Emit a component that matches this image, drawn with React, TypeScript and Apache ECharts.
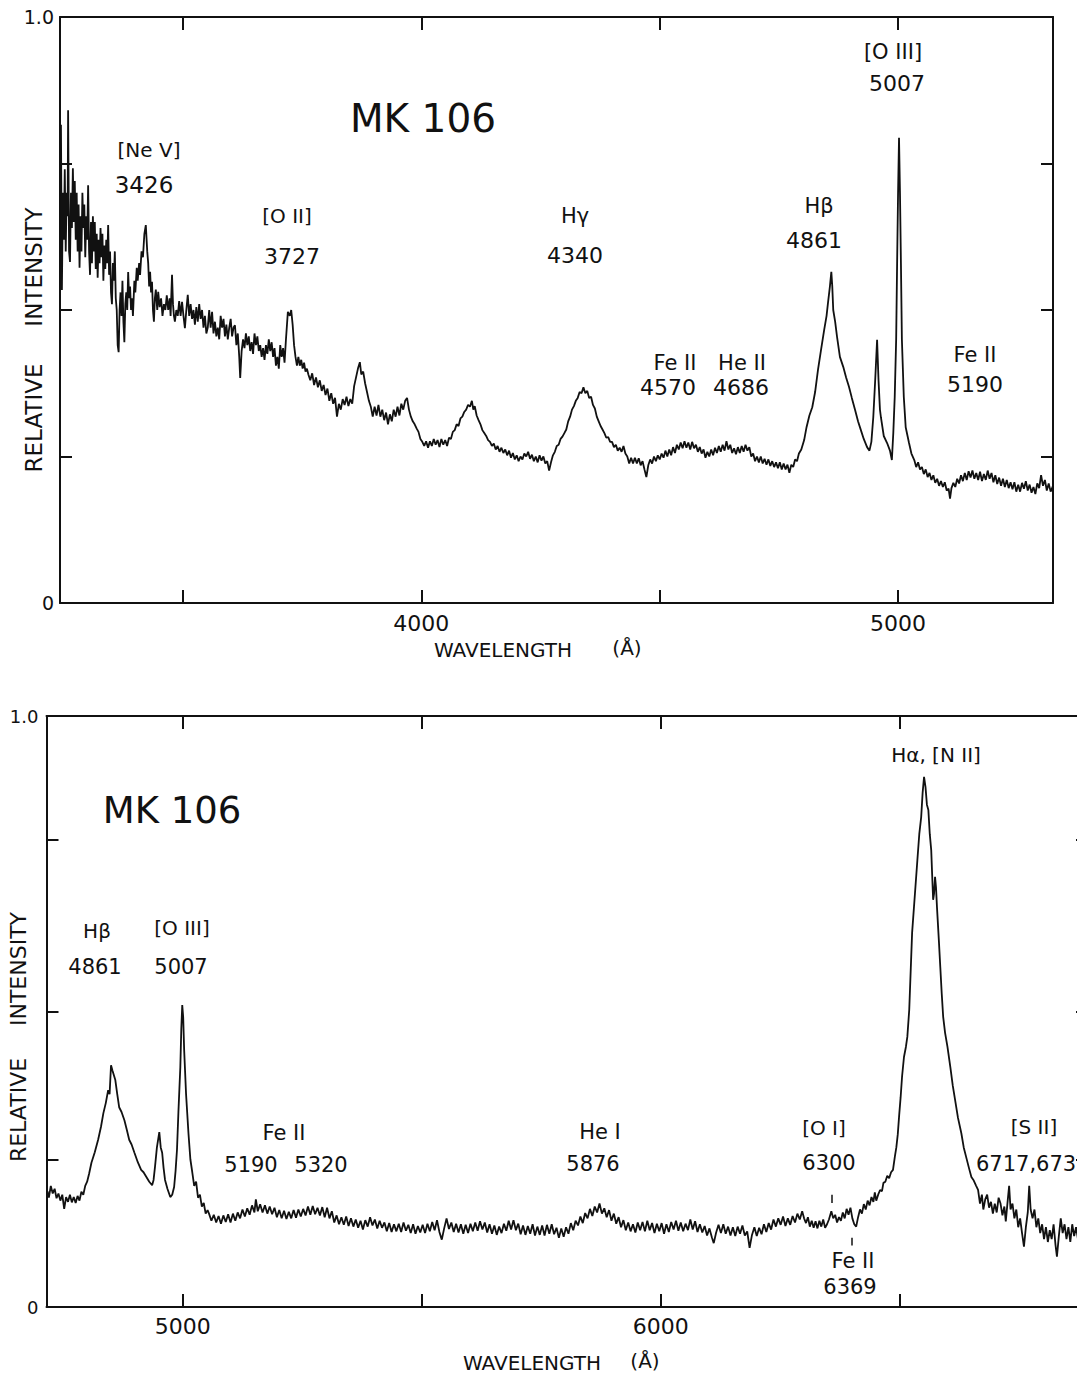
import React, { useEffect, useRef } from "react";
import * as echarts from "echarts";

const FONT = "'DejaVu Sans', 'Liberation Sans', Arial, sans-serif";
const INK = "#111";

// ---------- Upper panel spectrum (wavelength Å, relative intensity) ----------
const topSpectrumBlue: [number, number][] = [
  [3244, 0.816], [3246, 0.534], [3248, 0.70], [3250, 0.62], [3252, 0.74], [3254, 0.60], [3256, 0.70], [3258, 0.66],
  [3259, 0.841], [3261, 0.60], [3263, 0.582], [3265, 0.70], [3267, 0.64], [3269, 0.742], [3271, 0.65], [3273, 0.72],
  [3275, 0.62], [3277, 0.70], [3279, 0.60], [3281, 0.68], [3283, 0.572], [3285, 0.66], [3287, 0.60], [3289, 0.70],
  [3291, 0.64], [3293, 0.68], [3295, 0.59], [3297, 0.66], [3299, 0.62], [3301, 0.713], [3303, 0.60], [3305, 0.56],
  [3307, 0.65], [3309, 0.58], [3311, 0.66], [3313, 0.60], [3315, 0.65], [3317, 0.57], [3319, 0.63], [3321, 0.555],
  [3323, 0.62], [3325, 0.58], [3327, 0.64], [3329, 0.59], [3331, 0.63], [3333, 0.55], [3335, 0.61], [3337, 0.57],
  [3339, 0.62], [3341, 0.58], [3343, 0.645], [3345, 0.56], [3347, 0.60], [3349, 0.53], [3351, 0.51], [3353, 0.58],
  [3355, 0.55], [3357, 0.60], [3359, 0.52], [3361, 0.50], [3363, 0.44], [3365, 0.428], [3367, 0.50], [3369, 0.53],
  [3371, 0.49], [3373, 0.55], [3375, 0.48], [3377, 0.445], [3379, 0.51], [3381, 0.53], [3383, 0.50], [3385, 0.565],
  [3387, 0.52], [3389, 0.54], [3391, 0.50], [3393, 0.52], [3395, 0.49], [3398, 0.55], [3400, 0.53], [3403, 0.572],
  [3405, 0.55], [3408, 0.58], [3410, 0.56], [3413, 0.60], [3416, 0.59], [3419, 0.63], [3422, 0.645], [3425, 0.60],
  [3427, 0.58], [3429, 0.54], [3431, 0.565], [3433, 0.53], [3435, 0.548], [3437, 0.50], [3439, 0.48], [3441, 0.52],
  [3443, 0.535], [3446, 0.50], [3448, 0.531], [3451, 0.505], [3454, 0.52], [3457, 0.49], [3460, 0.51], [3463, 0.50],
  [3466, 0.525], [3469, 0.50], [3472, 0.52], [3474, 0.49], [3477, 0.560], [3479, 0.51], [3481, 0.49], [3483, 0.480],
  [3486, 0.50], [3489, 0.49], [3492, 0.515], [3495, 0.49], [3498, 0.514], [3501, 0.49], [3504, 0.469], [3507, 0.50],
  [3510, 0.526], [3513, 0.49], [3516, 0.51], [3519, 0.485], [3522, 0.50], [3525, 0.475], [3528, 0.505], [3531, 0.48],
  [3534, 0.51], [3537, 0.485], [3540, 0.50], [3543, 0.47], [3546, 0.49], [3549, 0.46], [3552, 0.47], [3555, 0.50],
  [3558, 0.47], [3561, 0.497], [3564, 0.46], [3567, 0.48], [3570, 0.455], [3573, 0.47], [3576, 0.45], [3579, 0.49],
  [3582, 0.47], [3585, 0.485], [3588, 0.455], [3591, 0.475], [3594, 0.45], [3597, 0.47], [3600, 0.485], [3603, 0.455],
  [3606, 0.47], [3609, 0.474], [3612, 0.44], [3615, 0.46], [3618, 0.42], [3620, 0.384], [3623, 0.43], [3626, 0.45],
  [3629, 0.435], [3632, 0.46], [3635, 0.44], [3638, 0.455], [3641, 0.43], [3644, 0.445], [3647, 0.425], [3650, 0.46],
  [3653, 0.44], [3656, 0.455], [3659, 0.43], [3662, 0.44], [3665, 0.42], [3668, 0.435], [3671, 0.415], [3674, 0.44],
  [3677, 0.425], [3680, 0.45], [3683, 0.43], [3686, 0.445], [3689, 0.42], [3692, 0.435], [3695, 0.405], [3698, 0.42],
  [3701, 0.40], [3704, 0.44], [3707, 0.42], [3710, 0.435], [3713, 0.41], [3716, 0.45], [3720, 0.497], [3724, 0.49],
  [3727, 0.500], [3730, 0.475], [3733, 0.44], [3736, 0.42], [3739, 0.405], [3742, 0.42], [3745, 0.405], [3748, 0.415],
  [3751, 0.40], [3754, 0.41], [3757, 0.395], [3760, 0.40],
];

const topSpectrumMid: [number, number][] = [
  [3763, 0.39], [3767, 0.38], [3771, 0.392], [3775, 0.372], [3779, 0.385], [3783, 0.368], [3787, 0.38], [3791, 0.362],
  [3795, 0.372], [3799, 0.355], [3803, 0.366], [3807, 0.345], [3811, 0.358], [3815, 0.34], [3819, 0.35], [3823, 0.318],
  [3827, 0.34], [3831, 0.33], [3835, 0.348], [3839, 0.338], [3843, 0.352], [3847, 0.336], [3851, 0.348], [3855, 0.34],
  [3859, 0.37], [3863, 0.385], [3867, 0.40], [3871, 0.411], [3874, 0.39], [3878, 0.395], [3882, 0.375], [3886, 0.36],
  [3890, 0.345], [3894, 0.335], [3898, 0.318], [3902, 0.335], [3906, 0.32], [3910, 0.338], [3914, 0.318], [3918, 0.33],
  [3922, 0.312], [3926, 0.325], [3930, 0.305], [3934, 0.322], [3938, 0.31], [3942, 0.33], [3946, 0.318], [3950, 0.335],
  [3954, 0.32], [3958, 0.34], [3962, 0.33], [3966, 0.345], [3970, 0.350], [3974, 0.33], [3978, 0.318], [3982, 0.31],
  [3986, 0.305], [3990, 0.298], [3994, 0.292], [3998, 0.28], [4002, 0.275], [4006, 0.268], [4010, 0.276], [4014, 0.265],
  [4018, 0.276], [4022, 0.268], [4026, 0.28], [4030, 0.27], [4034, 0.278], [4038, 0.266], [4042, 0.28], [4046, 0.27],
  [4050, 0.278], [4054, 0.268], [4058, 0.282], [4062, 0.28], [4066, 0.292], [4070, 0.295], [4074, 0.305], [4078, 0.302],
  [4082, 0.315], [4086, 0.318], [4090, 0.326], [4094, 0.33], [4098, 0.338], [4102, 0.335], [4106, 0.345], [4109, 0.33],
  [4112, 0.336], [4116, 0.32], [4120, 0.312], [4124, 0.305], [4128, 0.295], [4132, 0.29], [4136, 0.285], [4140, 0.278],
  [4144, 0.275], [4148, 0.268], [4152, 0.272], [4156, 0.262], [4160, 0.268], [4164, 0.258], [4168, 0.265], [4172, 0.256],
  [4176, 0.262], [4180, 0.252], [4184, 0.26], [4188, 0.248], [4192, 0.256], [4196, 0.245], [4200, 0.252], [4204, 0.242],
  [4208, 0.25], [4212, 0.245], [4216, 0.255], [4220, 0.25], [4224, 0.258], [4228, 0.246], [4232, 0.253], [4236, 0.242],
  [4240, 0.25], [4244, 0.24], [4248, 0.252], [4252, 0.243], [4256, 0.25], [4260, 0.238], [4264, 0.242], [4268, 0.226],
  [4272, 0.24], [4276, 0.252], [4280, 0.258], [4284, 0.268], [4288, 0.27], [4292, 0.28], [4296, 0.284], [4300, 0.29],
  [4304, 0.296], [4308, 0.31], [4312, 0.318], [4316, 0.33], [4320, 0.336], [4324, 0.345], [4328, 0.35], [4332, 0.36],
  [4336, 0.358], [4340, 0.368], [4344, 0.358], [4348, 0.362], [4352, 0.35], [4356, 0.352], [4360, 0.338], [4364, 0.332],
  [4368, 0.318], [4372, 0.31], [4376, 0.302], [4380, 0.296], [4384, 0.29], [4388, 0.282], [4392, 0.283], [4396, 0.275],
  [4400, 0.275], [4404, 0.266], [4408, 0.27], [4412, 0.26], [4416, 0.265], [4420, 0.258], [4424, 0.268], [4428, 0.255],
  [4432, 0.25], [4436, 0.238], [4440, 0.248], [4444, 0.238], [4448, 0.248], [4452, 0.238], [4456, 0.247], [4460, 0.235],
  [4464, 0.242], [4468, 0.228], [4472, 0.215], [4476, 0.235], [4480, 0.245], [4484, 0.238], [4488, 0.25], [4492, 0.242],
  [4496, 0.252], [4500, 0.245], [4504, 0.255], [4508, 0.248], [4512, 0.26], [4516, 0.25], [4520, 0.262], [4524, 0.252],
  [4528, 0.266], [4532, 0.256], [4536, 0.27], [4540, 0.262], [4544, 0.274], [4548, 0.264], [4552, 0.276], [4556, 0.265],
  [4560, 0.274], [4564, 0.262], [4568, 0.275], [4572, 0.264], [4576, 0.27], [4580, 0.258], [4584, 0.266], [4588, 0.255],
  [4592, 0.262], [4596, 0.248], [4600, 0.258], [4604, 0.25], [4608, 0.262], [4612, 0.252], [4616, 0.265], [4620, 0.256],
  [4624, 0.268], [4628, 0.258], [4632, 0.27], [4636, 0.26], [4640, 0.276], [4644, 0.262], [4648, 0.27], [4652, 0.256],
  [4656, 0.264], [4660, 0.254], [4664, 0.266], [4668, 0.256], [4672, 0.268], [4676, 0.258], [4680, 0.27], [4684, 0.26],
  [4688, 0.266], [4692, 0.25], [4696, 0.255], [4700, 0.242], [4704, 0.25], [4708, 0.24], [4712, 0.25], [4716, 0.238],
  [4720, 0.246], [4724, 0.236], [4728, 0.245], [4732, 0.234], [4736, 0.242], [4740, 0.232], [4744, 0.24], [4748, 0.23],
  [4752, 0.24], [4756, 0.228], [4760, 0.238], [4764, 0.228], [4768, 0.236], [4772, 0.222], [4776, 0.236], [4780, 0.232],
  [4784, 0.245], [4788, 0.242], [4792, 0.255],
];

const topSpectrumRed: [number, number][] = [
  [4797, 0.262], [4803, 0.278], [4808, 0.30], [4814, 0.32], [4820, 0.334], [4826, 0.36], [4832, 0.398], [4838, 0.43],
  [4845, 0.466], [4850, 0.49], [4853, 0.512], [4857, 0.54], [4860, 0.565], [4862, 0.54], [4864, 0.500], [4868, 0.48],
  [4872, 0.454], [4878, 0.42], [4885, 0.403], [4891, 0.385], [4897, 0.369], [4903, 0.35], [4910, 0.329], [4916, 0.31],
  [4922, 0.295], [4928, 0.28], [4935, 0.266], [4940, 0.26], [4944, 0.275], [4948, 0.317], [4952, 0.38], [4956, 0.449],
  [4959, 0.38], [4962, 0.33], [4964, 0.317], [4970, 0.285], [4977, 0.273], [4983, 0.26], [4987, 0.244], [4990, 0.29],
  [4993, 0.352], [4996, 0.45], [4998, 0.580], [5000, 0.70], [5002, 0.794], [5004, 0.70], [5006, 0.580], [5008, 0.45],
  [5012, 0.352], [5016, 0.30], [5023, 0.273], [5028, 0.255], [5034, 0.244], [5038, 0.232], [5042, 0.24], [5046, 0.228],
  [5050, 0.232], [5054, 0.22], [5058, 0.228], [5062, 0.215], [5066, 0.222], [5070, 0.21], [5074, 0.218], [5078, 0.205],
  [5082, 0.212], [5086, 0.2], [5090, 0.208], [5094, 0.198], [5098, 0.206], [5102, 0.192], [5106, 0.195], [5109, 0.178],
  [5112, 0.196], [5116, 0.205], [5120, 0.198], [5124, 0.212], [5128, 0.204], [5132, 0.218], [5136, 0.208], [5140, 0.222],
  [5144, 0.21], [5148, 0.225], [5152, 0.214], [5156, 0.226], [5160, 0.212], [5164, 0.222], [5168, 0.21], [5172, 0.224],
  [5176, 0.208], [5180, 0.22], [5184, 0.21], [5188, 0.226], [5192, 0.212], [5196, 0.222], [5200, 0.206], [5204, 0.218],
  [5208, 0.203], [5212, 0.214], [5216, 0.2], [5220, 0.212], [5224, 0.198], [5228, 0.21], [5232, 0.196], [5236, 0.206],
  [5240, 0.194], [5244, 0.206], [5248, 0.19], [5252, 0.202], [5256, 0.19], [5260, 0.205], [5264, 0.195], [5268, 0.208],
  [5272, 0.192], [5276, 0.202], [5280, 0.188], [5284, 0.198], [5288, 0.186], [5292, 0.204], [5296, 0.196], [5300, 0.218],
  [5304, 0.2], [5308, 0.21], [5312, 0.192], [5316, 0.204], [5320, 0.19], [5325, 0.2],
];

// ---------- Lower panel spectrum ----------
const bottomSpectrumBlue: [number, number][] = [
  [4717, 0.196], [4720, 0.185], [4724, 0.205], [4728, 0.192], [4732, 0.20], [4736, 0.184], [4740, 0.192], [4744, 0.18],
  [4748, 0.19], [4752, 0.166], [4756, 0.186], [4760, 0.178], [4764, 0.19], [4768, 0.177], [4772, 0.186], [4776, 0.176],
  [4780, 0.188], [4784, 0.18], [4788, 0.195], [4792, 0.19], [4796, 0.205], [4800, 0.212], [4804, 0.225], [4809, 0.244],
  [4816, 0.262], [4823, 0.283], [4829, 0.305], [4834, 0.328], [4839, 0.345], [4844, 0.367], [4847, 0.36], [4850, 0.409],
  [4853, 0.40], [4859, 0.384], [4863, 0.36], [4867, 0.338], [4872, 0.33], [4878, 0.316], [4883, 0.30], [4888, 0.283],
  [4893, 0.275], [4899, 0.261], [4906, 0.245], [4913, 0.232], [4918, 0.228], [4924, 0.220], [4930, 0.212], [4936, 0.206],
  [4939, 0.215], [4942, 0.237], [4946, 0.27], [4951, 0.296], [4954, 0.27], [4957, 0.261], [4960, 0.235], [4963, 0.215],
  [4968, 0.20], [4974, 0.186], [4978, 0.19], [4982, 0.203], [4985, 0.23], [4988, 0.266], [4991, 0.33], [4995, 0.406],
  [4997, 0.47], [4999, 0.511], [5001, 0.49], [5003, 0.435], [5007, 0.36], [5012, 0.294], [5016, 0.25], [5020, 0.228],
  [5024, 0.205], [5028, 0.212], [5032, 0.185], [5036, 0.19], [5040, 0.17], [5044, 0.176], [5048, 0.158], [5052, 0.164],
];

const bottomSpectrumMid: [number, number][] = [
  [5055, 0.158], [5060, 0.146], [5065, 0.156], [5070, 0.143], [5075, 0.154], [5080, 0.141], [5085, 0.155], [5090, 0.144],
  [5095, 0.157], [5100, 0.143], [5105, 0.158], [5110, 0.146], [5115, 0.160], [5120, 0.150], [5125, 0.165], [5130, 0.153],
  [5135, 0.167], [5140, 0.156], [5145, 0.172], [5150, 0.160], [5153, 0.182], [5157, 0.162], [5162, 0.174], [5167, 0.160],
  [5172, 0.172], [5177, 0.158], [5182, 0.170], [5187, 0.157], [5192, 0.168], [5197, 0.152], [5202, 0.164], [5207, 0.150],
  [5212, 0.163], [5217, 0.149], [5222, 0.161], [5227, 0.150], [5232, 0.164], [5237, 0.151], [5242, 0.165], [5247, 0.153],
  [5252, 0.166], [5257, 0.155], [5262, 0.170], [5267, 0.156], [5272, 0.171], [5277, 0.157], [5282, 0.168], [5287, 0.155],
  [5292, 0.169], [5297, 0.152], [5302, 0.168], [5307, 0.150], [5312, 0.162], [5317, 0.143], [5322, 0.155], [5327, 0.140],
  [5332, 0.152], [5337, 0.139], [5342, 0.153], [5347, 0.137], [5352, 0.150], [5357, 0.136], [5362, 0.148], [5367, 0.134],
  [5372, 0.146], [5377, 0.131], [5382, 0.147], [5387, 0.136], [5392, 0.152], [5397, 0.138], [5402, 0.148], [5407, 0.133],
  [5412, 0.146], [5417, 0.134], [5422, 0.143], [5427, 0.128], [5432, 0.142], [5437, 0.127], [5442, 0.140], [5447, 0.128],
  [5452, 0.141], [5457, 0.127], [5462, 0.143], [5467, 0.129], [5472, 0.139], [5477, 0.125], [5482, 0.140], [5487, 0.124],
  [5492, 0.137], [5497, 0.126], [5502, 0.139], [5507, 0.125], [5512, 0.141], [5517, 0.128], [5522, 0.144], [5527, 0.130],
  [5532, 0.147], [5537, 0.127], [5542, 0.114], [5547, 0.133], [5552, 0.150], [5557, 0.132], [5562, 0.143], [5567, 0.127],
  [5572, 0.141], [5577, 0.126], [5582, 0.140], [5587, 0.124], [5592, 0.139], [5597, 0.125], [5602, 0.141], [5607, 0.128],
  [5612, 0.143], [5617, 0.129], [5622, 0.145], [5627, 0.131], [5632, 0.143], [5637, 0.126], [5642, 0.140], [5647, 0.124],
  [5652, 0.138], [5657, 0.122], [5662, 0.136], [5667, 0.125], [5672, 0.141], [5677, 0.129], [5682, 0.146], [5687, 0.131],
  [5692, 0.147], [5697, 0.130], [5702, 0.141], [5707, 0.123], [5712, 0.138], [5717, 0.122], [5722, 0.137], [5727, 0.124],
  [5732, 0.140], [5737, 0.121], [5742, 0.136], [5747, 0.122], [5752, 0.138], [5757, 0.121], [5762, 0.139], [5767, 0.124],
  [5772, 0.140], [5777, 0.123], [5782, 0.134], [5787, 0.117], [5792, 0.133], [5797, 0.119], [5802, 0.135], [5807, 0.124],
  [5812, 0.142], [5817, 0.130], [5822, 0.146], [5827, 0.138], [5832, 0.153], [5837, 0.142], [5842, 0.159], [5847, 0.150],
  [5852, 0.166], [5857, 0.154], [5862, 0.170], [5867, 0.160], [5872, 0.175], [5877, 0.158], [5882, 0.167], [5887, 0.152],
  [5892, 0.164], [5897, 0.146], [5902, 0.158], [5907, 0.141], [5912, 0.152], [5917, 0.135], [5922, 0.147], [5927, 0.130],
  [5932, 0.143], [5937, 0.128], [5942, 0.140], [5947, 0.126], [5952, 0.143], [5957, 0.130], [5962, 0.144], [5967, 0.128],
  [5972, 0.146], [5977, 0.130], [5982, 0.142], [5987, 0.125], [5992, 0.141], [5997, 0.128], [6002, 0.142], [6007, 0.124],
  [6012, 0.140], [6017, 0.127], [6022, 0.144], [6027, 0.131], [6032, 0.146], [6037, 0.129], [6042, 0.143], [6047, 0.128],
  [6052, 0.141], [6057, 0.130], [6062, 0.148], [6067, 0.131], [6072, 0.145], [6077, 0.127], [6082, 0.140], [6087, 0.126],
  [6092, 0.137], [6097, 0.121], [6102, 0.133], [6107, 0.118], [6111, 0.108], [6116, 0.126], [6121, 0.139], [6126, 0.125],
  [6131, 0.140], [6136, 0.124], [6141, 0.136], [6146, 0.121], [6151, 0.135], [6156, 0.120], [6161, 0.136], [6166, 0.124],
  [6171, 0.138], [6176, 0.121], [6181, 0.128], [6186, 0.100], [6191, 0.122], [6196, 0.135], [6201, 0.120], [6206, 0.134],
  [6211, 0.123], [6216, 0.140], [6221, 0.127], [6226, 0.142], [6231, 0.131], [6236, 0.148], [6241, 0.136], [6246, 0.150],
  [6251, 0.139], [6256, 0.153], [6261, 0.137], [6266, 0.150], [6271, 0.139], [6276, 0.154], [6281, 0.143], [6286, 0.158],
  [6291, 0.148], [6296, 0.162],
];

const bottomSpectrumRed: [number, number][] = [
  [6300, 0.150], [6304, 0.142], [6308, 0.152], [6312, 0.136], [6316, 0.146], [6320, 0.134], [6324, 0.145], [6328, 0.133],
  [6332, 0.146], [6336, 0.136], [6340, 0.148], [6344, 0.134], [6348, 0.140], [6352, 0.148], [6357, 0.162], [6361, 0.150],
  [6365, 0.156], [6369, 0.143], [6373, 0.152], [6377, 0.146], [6381, 0.160], [6385, 0.150], [6389, 0.166], [6393, 0.156],
  [6397, 0.168], [6401, 0.150], [6405, 0.140], [6409, 0.136], [6413, 0.152], [6417, 0.165], [6421, 0.158], [6425, 0.174],
  [6429, 0.165], [6433, 0.180], [6437, 0.172], [6441, 0.186], [6445, 0.178], [6448, 0.194], [6451, 0.180], [6455, 0.190],
  [6459, 0.198], [6463, 0.196], [6466, 0.210], [6470, 0.212], [6474, 0.222], [6478, 0.218], [6482, 0.228], [6486, 0.232],
  [6490, 0.255], [6493, 0.270], [6496, 0.292], [6499, 0.325], [6502, 0.355], [6505, 0.39], [6509, 0.423], [6513, 0.44],
  [6516, 0.457], [6520, 0.503], [6526, 0.633], [6532, 0.70], [6537, 0.756], [6541, 0.80], [6545, 0.829], [6548, 0.87],
  [6551, 0.897], [6554, 0.88], [6557, 0.85], [6560, 0.841], [6563, 0.80], [6566, 0.773], [6568, 0.73], [6570, 0.689],
  [6572, 0.70], [6574, 0.728], [6576, 0.71], [6578, 0.677], [6582, 0.62], [6585, 0.575], [6588, 0.53], [6591, 0.491],
  [6595, 0.464], [6600, 0.44], [6606, 0.406], [6611, 0.375], [6616, 0.350], [6622, 0.32], [6629, 0.294], [6634, 0.27],
  [6639, 0.254], [6645, 0.235], [6650, 0.220], [6655, 0.214], [6660, 0.205], [6664, 0.198], [6668, 0.175], [6672, 0.19],
  [6675, 0.165], [6679, 0.182], [6683, 0.19], [6687, 0.168], [6691, 0.178], [6695, 0.158], [6699, 0.175], [6703, 0.16],
  [6707, 0.185], [6711, 0.175], [6715, 0.155], [6719, 0.17], [6722, 0.145], [6726, 0.18], [6729, 0.205], [6732, 0.165],
  [6736, 0.175], [6740, 0.15], [6744, 0.165], [6748, 0.135], [6752, 0.15], [6756, 0.125], [6760, 0.102], [6764, 0.135],
  [6768, 0.16], [6771, 0.205], [6774, 0.165], [6778, 0.15], [6782, 0.165], [6786, 0.135], [6790, 0.15], [6794, 0.125],
  [6798, 0.14], [6802, 0.115], [6806, 0.135], [6810, 0.11], [6814, 0.13], [6818, 0.115], [6822, 0.14], [6826, 0.105],
  [6829, 0.085], [6833, 0.12], [6837, 0.15], [6841, 0.125], [6845, 0.14], [6849, 0.115], [6853, 0.135], [6857, 0.11],
  [6861, 0.14], [6865, 0.12], [6869, 0.135], [6873, 0.115],
];

// small vertical line markers for [O I] 6300 and Fe II 6369 (wavelength, from, to)
const bottomMarkers: [number, number, number][] = [
  [6357, 0.19, 0.176],
  [6399, 0.117, 0.104],
];

// ---------- Axes ----------
const topXRange = [3242, 5325];
const bottomXRange = [4715, 6894];
const topXTicks = [3500, 4000, 4500, 5000];
const topXLabels = [4000, 5000];
const bottomXTicks = [5000, 5500, 6000, 6500];
const bottomXLabels = [5000, 6000];
const topYTicks = [0.25, 0.5, 0.75];
const bottomYTicks = [0.25, 0.5, 0.79];
const yLabelValues = [0, 1];

const topSpectrum = [...topSpectrumBlue, ...topSpectrumMid, ...topSpectrumRed];
const bottomSpectrum = [...bottomSpectrumBlue, ...bottomSpectrumMid, ...bottomSpectrumRed];

function xAxisDef(grid: number, range: number[], ticks: number[], labels: number[] | null, position: string, margin: number) {
  return {
    type: "value",
    gridIndex: grid,
    min: range[0],
    max: range[1],
    position,
    axisLine: { show: true, onZero: false, lineStyle: { color: INK, width: 2 } },
    axisTick: { show: true, inside: true, length: 13, customValues: ticks, lineStyle: { color: INK, width: 2 } },
    axisLabel: labels
      ? { show: true, customValues: labels, formatter: (v: number) => String(v), fontSize: 22, fontFamily: FONT, color: INK, margin }
      : { show: false },
    splitLine: { show: false },
  };
}

function yAxisDef(grid: number, ticks: number[], position: string, labels: boolean, fontSize: number, margin: number) {
  return {
    type: "value",
    gridIndex: grid,
    min: 0,
    max: 1,
    position,
    axisLine: { show: true, onZero: false, lineStyle: { color: INK, width: 2 } },
    axisTick: { show: true, inside: true, length: 12, customValues: ticks, lineStyle: { color: INK, width: 2 } },
    axisLabel: labels
      ? {
          show: true,
          customValues: yLabelValues,
          formatter: (v: number) => (v === 0 ? "0" : "1.0"),
          fontSize,
          fontFamily: FONT,
          color: INK,
          margin,
        }
      : { show: false },
    splitLine: { show: false },
  };
}

type T = { t: string; x: number; y: number; s: number; rot?: boolean; left?: boolean };

const textItems: T[] = [
  // upper panel
  { t: "MK 106", x: 423, y: 118, s: 39 },
  { t: "[Ne V]", x: 149, y: 150, s: 20 },
  { t: "3426", x: 144, y: 185, s: 23 },
  { t: "[O II]", x: 287, y: 216, s: 20 },
  { t: "3727", x: 292, y: 256, s: 22 },
  { t: "Hγ", x: 575, y: 216, s: 21 },
  { t: "4340", x: 575, y: 255, s: 22 },
  { t: "Hβ", x: 819, y: 206, s: 21 },
  { t: "4861", x: 814, y: 240, s: 22 },
  { t: "[O III]", x: 893, y: 52, s: 21 },
  { t: "5007", x: 897, y: 83, s: 22 },
  { t: "Fe II", x: 675, y: 363, s: 21 },
  { t: "4570", x: 668, y: 387, s: 22 },
  { t: "He II", x: 742, y: 363, s: 21 },
  { t: "4686", x: 741, y: 387, s: 22 },
  { t: "Fe II", x: 975, y: 355, s: 21 },
  { t: "5190", x: 975, y: 384, s: 22 },
  { t: "RELATIVE", x: 34, y: 418, s: 23, rot: true },
  { t: "INTENSITY", x: 34, y: 267, s: 23, rot: true },
  { t: "WAVELENGTH", x: 503, y: 650, s: 20 },
  { t: "(Å)", x: 627, y: 648, s: 20 },
  // lower panel
  { t: "MK 106", x: 172, y: 810, s: 37 },
  { t: "Hβ", x: 97, y: 931, s: 20 },
  { t: "[O III]", x: 182, y: 928, s: 20 },
  { t: "4861", x: 95, y: 967, s: 21 },
  { t: "5007", x: 181, y: 967, s: 21 },
  { t: "Fe II", x: 284, y: 1133, s: 21 },
  { t: "5190", x: 251, y: 1165, s: 21 },
  { t: "5320", x: 321, y: 1165, s: 21 },
  { t: "He I", x: 600, y: 1132, s: 21 },
  { t: "5876", x: 593, y: 1164, s: 21 },
  { t: "[O I]", x: 824, y: 1128, s: 20 },
  { t: "6300", x: 829, y: 1163, s: 21 },
  { t: "Fe II", x: 853, y: 1261, s: 21 },
  { t: "6369", x: 850, y: 1287, s: 21 },
  { t: "[S II]", x: 1034, y: 1127, s: 20 },
  { t: "6717,673", x: 976, y: 1164, s: 21, left: true },
  { t: "Hα, [N II]", x: 936, y: 755, s: 20 },
  { t: "RELATIVE", x: 18, y: 1110, s: 22, rot: true },
  { t: "INTENSITY", x: 18, y: 969, s: 22, rot: true },
  { t: "WAVELENGTH", x: 532, y: 1363, s: 20 },
  { t: "(Å)", x: 645, y: 1361, s: 20 },
];

function buildOption() {
  return {
    animation: false,
    backgroundColor: "#ffffff",
    grid: [
      { left: 60, top: 17, width: 993, height: 586, containLabel: false, outerBoundsMode: "none" },
      { left: 46.5, top: 716, width: 1041.5, height: 591, containLabel: false, outerBoundsMode: "none" },
    ],
    xAxis: [
      xAxisDef(0, topXRange, topXTicks, topXLabels, "bottom", 9),
      xAxisDef(0, topXRange, topXTicks, null, "top", 0),
      xAxisDef(1, bottomXRange, bottomXTicks, bottomXLabels, "bottom", 8),
      xAxisDef(1, bottomXRange, bottomXTicks, null, "top", 0),
    ],
    yAxis: [
      yAxisDef(0, topYTicks, "left", true, 19, 6),
      yAxisDef(0, topYTicks, "right", false, 19, 0),
      yAxisDef(1, bottomYTicks, "left", true, 18, 8),
      yAxisDef(1, bottomYTicks, "right", false, 18, 0),
    ],
    series: [
      {
        type: "line",
        xAxisIndex: 0,
        yAxisIndex: 0,
        data: topSpectrum,
        showSymbol: false,
        symbol: "none",
        lineStyle: { color: INK, width: 1.8 },
        silent: true,
      },
      {
        type: "line",
        xAxisIndex: 2,
        yAxisIndex: 2,
        data: bottomSpectrum,
        showSymbol: false,
        symbol: "none",
        lineStyle: { color: INK, width: 1.8 },
        silent: true,
        markLine: {
          silent: true,
          symbol: ["none", "none"],
          label: { show: false },
          lineStyle: { color: INK, width: 1.5, type: "solid" },
          data: bottomMarkers.map(([w, a, b]) => [{ coord: [w, a] }, { coord: [w, b] }]),
        },
      },
    ],
    graphic: textItems.map((it) => ({
      type: "text",
      x: it.x,
      y: it.y,
      rotation: it.rot ? Math.PI / 2 : 0,
      silent: true,
      style: {
        text: it.t,
        fill: INK,
        fontSize: it.s,
        fontFamily: FONT,
        align: it.left ? "left" : "center",
        textAlign: it.left ? "left" : "center",
        verticalAlign: "middle",
        textVerticalAlign: "middle",
      },
    })),
  };
}

export default function App() {
  const ref = useRef<HTMLDivElement>(null);
  useEffect(() => {
    document.body.style.margin = "0";
    const chart = echarts.init(ref.current!, null, { renderer: "svg" });
    chart.setOption(buildOption() as any);
    return () => chart.dispose();
  }, []);
  return <div ref={ref} style={{ width: 1077, height: 1374, background: "#fff" }} />;
}
